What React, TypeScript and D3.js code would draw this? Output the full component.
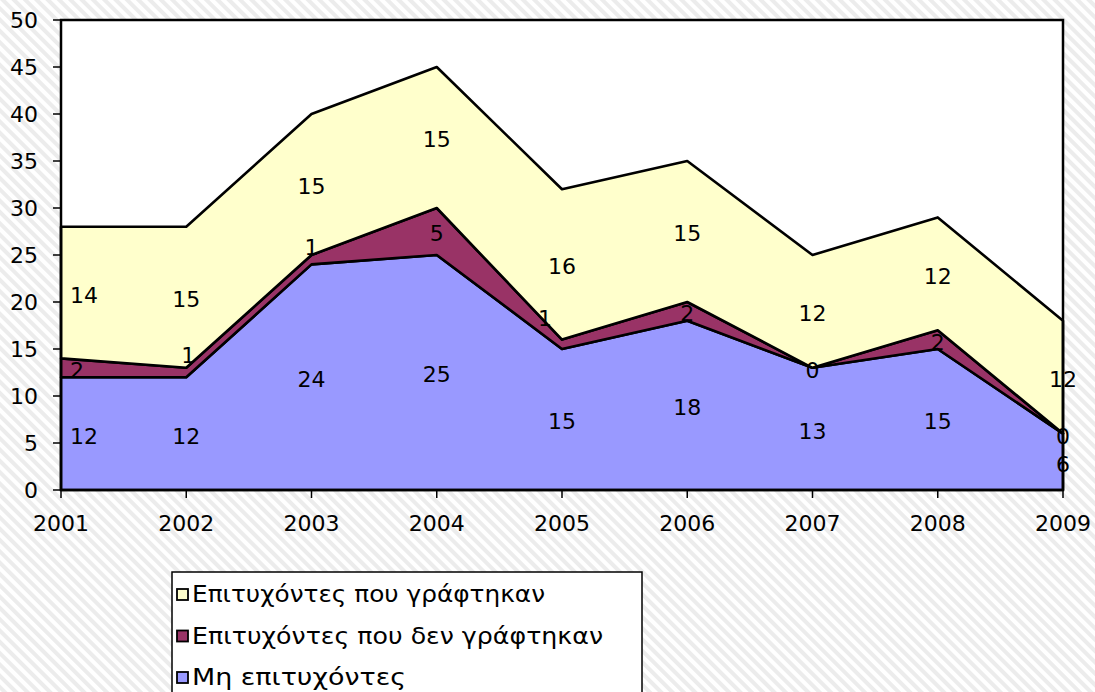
import React from "react";
import * as d3 from "d3";

const years = ["2001", "2002", "2003", "2004", "2005", "2006", "2007", "2008", "2009"];
const notSuccessful = [12, 12, 24, 25, 15, 18, 13, 15, 6];
const successfulNotEnrolled = [2, 1, 1, 5, 1, 2, 0, 2, 0];
const successfulEnrolled = [14, 15, 15, 15, 16, 15, 12, 12, 12];
const yTicks = [0, 5, 10, 15, 20, 25, 30, 35, 40, 45, 50];

const seriesNames = ["Μη επιτυχόντες", "Επιτυχόντες που δεν γράφτηκαν", "Επιτυχόντες που γράφτηκαν"];
const seriesColors = ["#9999FF", "#993366", "#FFFFCC"];
// small label nudges (px) for thin segments, as in the reference
const maroonLabelNudgeY = [0, -19, -15, 0, -28, 0, 0, 0, 0];
const maroonLabelNudgeX = [0, 2, 0, 0, -17, 0, 0, 0, 0];
const legendTextLengths = [214, 411, 353];

const W = 1095, H = 692;
const L = 61, R = 1063, T = 20, B = 490;
const FONT = "'DejaVu Sans', Verdana, sans-serif";

export default function App() {
  const x = d3.scalePoint<string>().domain(years).range([L, R]);
  const y = d3.scaleLinear().domain([0, 50]).range([B, T]);
  const rows = years.map((yr, i) => ({
    yr,
    s0: notSuccessful[i],
    s1: successfulNotEnrolled[i],
    s2: successfulEnrolled[i],
  }));
  const stack = d3.stack<any>().keys(["s0", "s1", "s2"]);
  const layers = stack(rows);
  const area = d3
    .area<any>()
    .x((d) => x(d.data.yr)!)
    .y0((d) => y(d[0]))
    .y1((d) => y(d[1]));

  const legendItems = [2, 1, 0];

  return (
    <svg width={W} height={H} style={{ position: "absolute", left: 0, top: 0 }} fontFamily={FONT}>
      <defs>
        <pattern id="stripes" patternUnits="userSpaceOnUse" width="8" height="8" patternTransform="rotate(-45)">
          <rect width="8" height="8" fill="#ffffff" />
          <rect width="4" height="8" fill="#ececec" />
        </pattern>
      </defs>
      <rect x={0} y={0} width={W} height={H} fill="url(#stripes)" />
      <rect x={L} y={T} width={R - L} height={B - T} fill="#ffffff" />
      {layers.map((layer, i) => (
        <path key={i} d={area(layer as any)!} fill={seriesColors[i]} stroke="#000" strokeWidth={2.6} strokeLinejoin="round" />
      ))}
      <rect x={L} y={T} width={R - L} height={B - T} fill="none" stroke="#000" strokeWidth={2.5} />
      {yTicks.map((t) => (
        <g key={t}>
          <line x1={L - 8} x2={L} y1={y(t)} y2={y(t)} stroke="#000" strokeWidth={1.5} />
          <text x={38} y={y(t)} dy="0.36em" textAnchor="end" fontSize={22} fill="#000">
            {t}
          </text>
        </g>
      ))}
      {years.map((yr) => (
        <g key={yr}>
          <line x1={x(yr)} x2={x(yr)} y1={B} y2={B + 8} stroke="#000" strokeWidth={1.5} />
          <text x={x(yr)} y={523} dy="0.36em" textAnchor="middle" fontSize={22} fill="#000">
            {yr}
          </text>
        </g>
      ))}
      {layers.map((layer, si) =>
        layer.map((d: any, i: number) => {
          const first = i === 0;
          const cx = x(d.data.yr)! + (first ? 9 : 0) + (si === 1 ? maroonLabelNudgeX[i] : 0);
          const cy = y((d[0] + d[1]) / 2) + (si === 1 ? maroonLabelNudgeY[i] : 0) + 2;
          const val = d[1] - d[0];
          return (
            <text key={si + "-" + i} x={cx} y={cy} dy="0.36em" textAnchor={first ? "start" : "middle"} fontSize={22} fill="#000">
              {val}
            </text>
          );
        })
      )}
      <rect x={172} y={572} width={470} height={140} fill="#fff" stroke="#000" strokeWidth={1.5} />
      {legendItems.map((si, k) => {
        const cy = 594 + k * 41.5;
        return (
          <g key={si}>
            <rect x={177} y={cy - 5} width={11} height={11} fill={seriesColors[si]} stroke="#000" strokeWidth={1.8} />
            <text x={192} y={cy} dy="0.36em" fontSize={23} fill="#000" textLength={legendTextLengths[si]} lengthAdjust="spacingAndGlyphs">
              {seriesNames[si]}
            </text>
          </g>
        );
      })}
    </svg>
  );
}
